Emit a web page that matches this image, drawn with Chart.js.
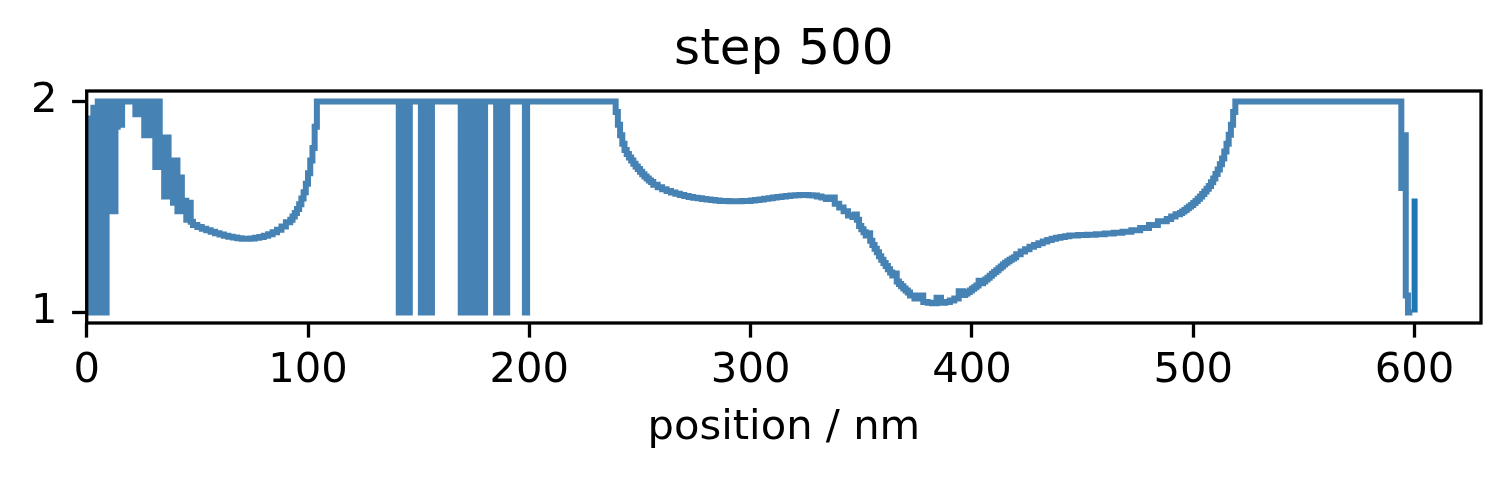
<!DOCTYPE html>
<html>
<head>
<meta charset="utf-8">
<title>step 500</title>
<script src="https://cdn.jsdelivr.net/npm/chart.js@4/dist/chart.umd.min.js"></script>
<style>
  html, body { margin: 0; padding: 0; background: #fff; }
  canvas { display: block; }
</style>
</head>
<body>
<canvas id="profileChart" width="1510" height="479"></canvas>
<script>
// ---- Data --------------------------------------------------
// noisy start
const headNm = [
  0, 1, 2, 3, 4, 5, 6, 7, 8, 9, 10, 11, 12, 13, 14, 15, 16, 17, 18, 22,
  23, 24, 25, 26, 27, 28, 29, 30, 31, 32, 33, 34, 35, 36, 37, 38, 39, 40,
  41, 42, 43, 44, 45, 46, 47, 48
];
const headRatio = [
  1.68, 1.0, 1.92, 1.0, 1.97, 1.0, 2.0, 1.0, 2.0, 1.0, 2.0, 1.48, 2.0, 1.48, 1.88, 2.0, 1.89, 2.0, 2.0, 2.0,
  1.94, 2.0, 1.94, 2.0, 1.84, 2.0, 1.84, 2.0, 1.94, 1.69, 2.0, 1.69, 1.83, 1.55, 1.83, 1.55, 1.72, 1.52,
  1.72, 1.48, 1.64, 1.48, 1.53, 1.44, 1.52, 1.43
];

// bowl up to the first plateau
const bowlNm = [
  50, 52, 54, 56, 58, 60, 62, 64, 66, 68, 70, 72, 74, 76, 78, 80, 82, 84, 86, 88, 90, 92,
  93, 94, 95, 96, 97, 98, 99, 100, 101, 102, 103, 104, 105
];
const bowlRatio = [
  1.415, 1.405, 1.397, 1.39, 1.383, 1.376, 1.37, 1.364, 1.359, 1.355, 1.352, 1.35, 1.35, 1.351, 1.354,
  1.358, 1.364, 1.371, 1.38, 1.392, 1.407, 1.428,
  1.44, 1.455, 1.471, 1.49, 1.513, 1.54, 1.57, 1.61, 1.66, 1.72, 1.78, 1.88, 2.0
];

// plateau with the switching bands
const plateauNm = [
  141, 142, 143, 144, 145, 146, 147,
  151, 152, 153, 154, 155, 156, 157,
  169, 170, 171, 172, 173, 174, 175, 176, 177, 178, 179, 180, 181,
  185, 186, 187, 188, 189, 190, 191,
  198, 199, 200, 239
];
const plateauRatio = [
  2.0, 1.0, 2.0, 1.0, 2.0, 1.0, 2.0,
  2.0, 1.0, 2.0, 1.0, 2.0, 1.0, 2.0,
  2.0, 1.0, 2.0, 1.0, 2.0, 1.0, 2.0, 1.0, 2.0, 1.0, 2.0, 1.0, 2.0,
  2.0, 1.0, 2.0, 1.0, 2.0, 1.0, 2.0,
  2.0, 1.0, 2.0, 2.0
];

// long smooth stretch 240-520 nm
const bodyNm = [
  240, 241, 242, 243, 244, 245, 246, 247, 248, 249, 250, 251, 252, 253, 254, 255, 256,
  258, 260, 262, 264, 266, 268, 270, 272, 274, 276,
  278, 280, 282, 284, 286, 288, 290, 292, 294, 296,
  298, 300, 302, 304, 306, 308, 310, 312, 314, 316,
  318, 320, 322, 324, 326, 328, 330, 332, 334, 336,
  338, 340, 342, 344,
  346, 347, 348, 349, 350, 351, 352, 353, 354, 355,
  356, 357, 358, 359, 360, 361, 362, 363, 364, 365,
  366, 367, 368, 369, 370, 371, 372,
  374, 376, 378, 380, 382, 384, 386, 388, 390, 392, 394,
  396, 397, 398, 399, 400, 401, 402, 403, 404, 405,
  406, 407, 408, 409, 410, 411, 412, 413, 414, 415,
  416, 417, 418, 419, 420,
  422, 424, 426, 428, 430, 432, 434, 436, 438, 440, 442, 444,
  448, 452, 456, 460, 464, 468, 472, 476, 480, 484, 488, 490, 492,
  494, 495, 496, 497, 498, 499, 500, 501, 502, 503,
  504, 505, 506, 507, 508, 509, 510, 511, 512, 513,
  514, 515, 516, 517, 518, 519, 520
];
const bodyRatio = [
  1.95, 1.89, 1.84, 1.80, 1.77, 1.751, 1.735, 1.72, 1.705, 1.692, 1.68, 1.667, 1.655, 1.645, 1.635, 1.626, 1.618,
  1.605, 1.594, 1.584, 1.576, 1.569, 1.563, 1.557, 1.552, 1.548, 1.544,
  1.541, 1.538, 1.535, 1.533, 1.531, 1.529, 1.528, 1.527, 1.527, 1.527,
  1.528, 1.529, 1.531, 1.533, 1.536, 1.539, 1.542, 1.545, 1.548, 1.55,
  1.552, 1.554, 1.556, 1.557, 1.557, 1.556, 1.554, 1.55, 1.545, 1.538,
  1.545, 1.515, 1.498, 1.48,
  1.46, 1.452, 1.465, 1.44, 1.41, 1.395, 1.38, 1.365, 1.375, 1.34,
  1.32, 1.302, 1.285, 1.267, 1.25, 1.235, 1.22, 1.205, 1.19, 1.175,
  1.185, 1.147, 1.135, 1.124, 1.113, 1.104, 1.095,
  1.08, 1.066, 1.08, 1.05, 1.046, 1.044, 1.07, 1.046, 1.05, 1.057, 1.066,
  1.1, 1.083, 1.09, 1.097, 1.104, 1.112, 1.12, 1.128, 1.15, 1.138,
  1.147, 1.156, 1.165, 1.174, 1.183, 1.192, 1.2, 1.209, 1.218, 1.227,
  1.236, 1.243, 1.25, 1.256, 1.262,
  1.276, 1.289, 1.3, 1.311, 1.32, 1.328, 1.336, 1.343, 1.349, 1.354, 1.358, 1.361,
  1.365, 1.367, 1.369, 1.371, 1.374, 1.378, 1.383, 1.39, 1.401, 1.415, 1.433, 1.443, 1.455,
  1.466, 1.472, 1.479, 1.486, 1.494, 1.502, 1.51, 1.519, 1.528, 1.539,
  1.55, 1.562, 1.574, 1.587, 1.6, 1.617, 1.635, 1.656, 1.678, 1.703,
  1.73, 1.763, 1.8, 1.843, 1.89, 1.95, 2.0
];

// drop at the right end
const tailNm    = [594, 595, 596, 597, 598, 599];
const tailRatio = [2.0, 1.59, 1.84, 1.08, 1.0, 1.0];

// last sample, drawn in the second colour
const endNm    = [600, 600];
const endRatio = [1.54, 1.0];

const xTicks = [0, 100, 200, 300, 400, 500, 600];
const yTicks = [1, 2];

// ---- Build the point lists ---------------------------------
const positionNm = [...headNm, ...bowlNm, ...plateauNm, ...bodyNm, ...tailNm];
const ratio      = [...headRatio, ...bowlRatio, ...plateauRatio, ...bodyRatio, ...tailRatio];

// ---- Frame (all four spines, on top of the line) -----------
const framePlugin = {
  id: "frame",
  afterDatasetsDraw(chart) {
    const { ctx, chartArea: a } = chart;
    ctx.save();
    ctx.strokeStyle = "#000";
    ctx.lineWidth = 3.3;
    ctx.strokeRect(a.left, a.top, a.right - a.left, a.bottom - a.top);
    ctx.restore();
  },
};

const font = { family: "'DejaVu Sans', sans-serif", size: 41.7 };
const tickGrid = { drawOnChartArea: false, drawTicks: true, tickLength: 14.6, tickWidth: 3.3, tickColor: "#000" };

new Chart(document.getElementById("profileChart"), {
  type: "line",
  data: {
    datasets: [
      {
        data: positionNm.map((x, i) => ({ x, y: ratio[i] })),
        borderColor: "#4682b4",
        borderWidth: 6,
        stepped: "after",
        pointRadius: 0,
        borderJoinStyle: "miter",
        borderCapStyle: "butt",
        clip: 0,
      },
      {
        data: endNm.map((x, i) => ({ x, y: endRatio[i] })),
        borderColor: "#1f77b4",
        borderWidth: 6,
        pointRadius: 0,
        borderCapStyle: "butt",
        clip: 0,
      },
    ],
  },
  options: {
    responsive: false,
    devicePixelRatio: 1,
    animation: false,
    layout: { padding: { left: 0, right: 29, top: 0, bottom: 0 } },
    plugins: {
      legend: { display: false },
      tooltip: { enabled: false },
      title: {
        display: true,
        fullSize: false,
        text: "step 500",
        color: "#000",
        font: { ...font, size: 50, weight: "normal", lineHeight: 1.2 },
        padding: { top: 21, bottom: 10 },
      },
    },
    scales: {
      x: {
        type: "linear",
        min: 0,
        max: 630,
        afterBuildTicks: (s) => { s.ticks = xTicks.map((v) => ({ value: v })); },
        afterFit: (s) => { s.height = 156; },
        grid: tickGrid,
        border: { display: false },
        ticks: { color: "#000", font, padding: 9, maxRotation: 0 },
        title: {
          display: true,
          text: "position / nm",
          color: "#000",
          font: { ...font, lineHeight: 1.2 },
          padding: { top: 0, bottom: 26 },
        },
      },
      y: {
        type: "linear",
        min: 0.95,
        max: 2.05,
        afterBuildTicks: (s) => { s.ticks = yTicks.map((v) => ({ value: v })); },
        afterFit: (s) => { s.width = 86.7; },
        grid: tickGrid,
        border: { display: false },
        ticks: { color: "#000", font, padding: 14.6 },
      },
    },
  },
  plugins: [framePlugin],
});
</script>
</body>
</html>
